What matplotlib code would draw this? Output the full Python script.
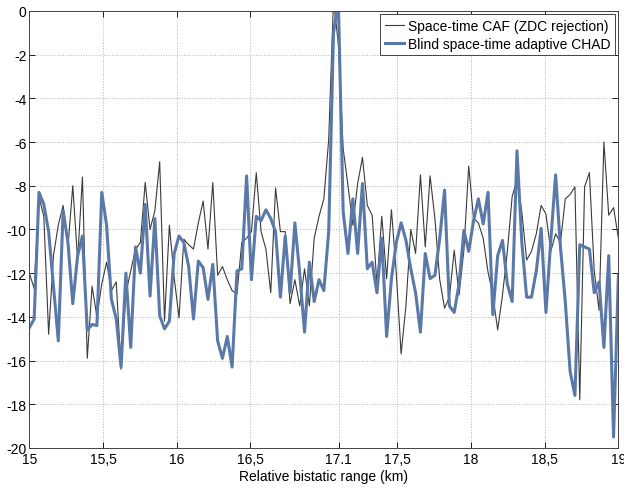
import numpy as np
import matplotlib
matplotlib.use('Agg')
from matplotlib import pyplot as plt

plt.rcParams['font.family'] = ['Liberation Sans', 'DejaVu Sans']
plt.rcParams['axes.unicode_minus'] = False

# Space-time CAF (ZDC rejection), dB
caf = [-12.0, -12.7, -8.5, -9.4, -14.8, -11.2, -9.8, -8.9, -10.8, -8.0,
       -11.4, -7.6, -15.9, -12.6, -14.0, -12.5, -11.5, -12.8, -12.4, -16.4,
       -12.9, -11.9, -10.9, -10.6, -7.85, -10.0, -9.15, -6.9, -14.2, -9.8,
       -12.2, -14.05, -10.45, -10.7, -10.9, -9.7, -8.7, -10.9, -7.85, -12.1,
       -11.7, -12.3, -12.8, -12.95, -10.6, -10.4, -10.1, -7.4, -10.1, -10.9,
       -12.9, -8.1, -10.1, -10.1, -13.4, -12.3, -13.5, -11.8, -13.5, -10.4,
       -9.4, -8.6, -5.9, 0.5, -1.5, -6.3, -8.0, -9.8, -7.9, -6.7,
       -8.9, -9.35, -12.5, -9.4, -12.25, -9.1, -12.0, -15.7, -13.5, -10.0,
       -11.1, -7.5, -10.8, -7.55, -9.5, -12.3, -13.6, -13.1, -10.95, -13.0,
       -10.95, -7.1, -9.5, -9.7, -10.4, -11.95, -13.0, -14.6, -13.0, -11.0,
       -8.5, -7.7, -9.2, -11.4, -11.0, -10.2, -8.9, -9.3, -11.0, -10.2,
       -10.6, -8.6, -8.4, -8.05, -17.8, -8.05, -7.4, -11.9, -13.7, -6.0,
       -9.35, -9.0, -10.4]

# Blind space-time adaptive CHAD, dB
chad = [-14.5, -14.1, -8.3, -8.85, -10.1, -12.6, -15.1, -9.15, -10.6, -13.4,
        -11.2, -10.3, -14.6, -14.35, -14.4, -8.3, -9.8, -13.2, -14.1, -16.3,
        -12.0, -15.4, -10.8, -12.0, -8.85, -13.05, -9.5, -13.95, -14.55, -14.2,
        -11.1, -10.3, -10.6, -11.7, -14.1, -11.45, -11.75, -13.2, -11.6, -15.1,
        -15.9, -14.9, -16.3, -11.9, -11.8, -7.55, -12.3, -9.4, -9.6, -9.1,
        -9.5, -10.1, -13.1, -10.3, -12.9, -9.7, -12.0, -14.7, -11.5, -13.3,
        -12.3, -12.8, -10.1, -1.0, 0.5, -9.2, -11.1, -8.6, -11.1, -7.9,
        -11.8, -11.5, -12.9, -10.4, -14.9, -12.25, -10.6, -9.7, -10.5, -11.8,
        -12.9, -14.7, -11.1, -12.25, -12.1, -10.4, -8.2, -13.5, -13.8, -12.5,
        -10.05, -11.0, -9.6, -8.6, -9.75, -8.3, -13.9, -11.2, -10.5, -12.5,
        -13.3, -6.4, -10.6, -13.1, -13.1, -11.9, -9.95, -13.8, -10.5, -7.5,
        -10.8, -13.3, -16.5, -17.6, -10.7, -10.8, -10.9, -12.9, -12.4, -15.4,
        -11.2, -19.5, -12.1]

rng = np.linspace(15, 19, len(caf))

xticks = [15, 15.5, 16, 16.5, 17.1, 17.5, 18, 18.5, 19]
xlabels = ['15', '15,5', '16', '16,5', '17.1', '17,5', '18', '18,5', '19']
yticks = list(range(-20, 1, 2))

fig = plt.figure(figsize=(6.24, 4.89), dpi=100)
ax = fig.add_axes([0.047, 0.082, 0.944, 0.8935])

ax.plot(rng, caf, color='#3a3a3a', lw=0.8, label='Space-time CAF (ZDC rejection)')
ax.plot(rng, chad, color='#5a79a8', lw=2.2, label='Blind space-time adaptive CHAD')

ax.set_xlim(15, 19)
ax.set_ylim(-20, 0)
ax.set_xticks(xticks)
ax.set_xticklabels(xlabels)
ax.set_yticks(yticks)
ax.set_yticklabels([str(v) for v in yticks])
ax.tick_params(direction='in', top=True, right=True, labelsize=10, length=4, width=0.6)
ax.tick_params(axis='x', pad=3)
ax.tick_params(axis='y', pad=2)
ax.grid(True, ls=':', color='#b4b4b4', lw=0.7)
for s in ax.spines.values():
    s.set_linewidth(0.7)
    s.set_color('#444444')

ax.set_xlabel('Relative bistatic range (km)', fontsize=10, labelpad=2)

leg = ax.legend(loc='upper right', fontsize=10, fancybox=False, framealpha=1,
                edgecolor='#444444', handlelength=1.4, handletextpad=0.3,
                borderpad=0.3, labelspacing=0.3, borderaxespad=0.25)
leg.get_frame().set_linewidth(0.7)

fig.savefig('out.png', dpi=100)
